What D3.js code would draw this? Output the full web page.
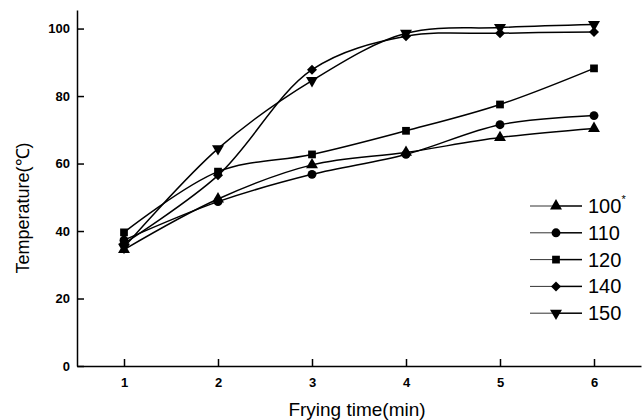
<!DOCTYPE html>
<html>
<head>
<meta charset="utf-8">
<script src="https://cdn.jsdelivr.net/npm/d3@7"></script>
<style>
  body { margin: 0; background: #fff; }
  text { font-family: Arial, "Liberation Sans", sans-serif; fill: #000; }
  .axis path, .axis line { stroke: #000; stroke-width: 1.5px; }
  .axis text { font-size: 13px; font-weight: bold; }
</style>
</head>
<body>
<div id="chart"></div>
<script>
// frying time (min) and temperature readings for each oil temperature
var times = [1, 2, 3, 4, 5, 6];
var seriesNames = ["100", "110", "120", "140", "150"];
var t100 = [34.5, 49.5, 59.6, 63.3, 67.7, 70.4];
var t110 = [37.3, 48.7, 56.8, 62.7, 71.5, 74.2];
var t120 = [39.6, 57.6, 62.7, 69.7, 77.5, 88.2];
var t140 = [36.3, 56.5, 87.8, 97.7, 98.6, 99.0];
var t150 = [35.2, 64.4, 84.6, 98.6, 100.3, 101.2];
var yTicks = [0, 20, 40, 60, 80, 100];

var allSeries = [t100, t110, t120, t140, t150];
// triangle, circle, square, diamond, inverted triangle
var symbols = [d3.symbolTriangle, d3.symbolCircle, d3.symbolSquare, d3.symbolSquare, d3.symbolTriangle];
var rotations = [0, 0, 0, 45, 180];
var sizes = [62, 62, 60, 50, 62];

var margin = {top: 10, right: 2, bottom: 54, left: 77};
var width = 643 - margin.left - margin.right,
    height = 420 - margin.top - margin.bottom;

var svg = d3.select("#chart").append("svg")
  .attr("width", 643)
  .attr("height", 420);
var g = svg.append("g")
  .attr("transform", "translate(" + margin.left + "," + margin.top + ")");

var x = d3.scaleLinear().domain([0.5, 6.5]).range([0, width]);
var y = d3.scaleLinear().domain([0, 105.5]).range([height, 0]);

// axes, ticks pointing inward
g.append("g")
  .attr("class", "axis")
  .attr("transform", "translate(0," + height + ")")
  .call(d3.axisBottom(x).tickValues(times).tickFormat(d3.format("d"))
    .tickSizeInner(-7).tickSizeOuter(0).tickPadding(12));
g.append("g")
  .attr("class", "axis")
  .call(d3.axisLeft(y).tickValues(yTicks).tickFormat(d3.format("d"))
    .tickSizeInner(-7).tickSizeOuter(0).tickPadding(7));

// axis titles
g.append("text")
  .attr("x", 280)
  .attr("y", height + 50)
  .style("text-anchor", "middle")
  .style("font-size", "19px")
  .text("Frying time(min)");
g.append("text")
  .attr("transform", "translate(-48," + (height / 2 + 20) + ") rotate(-90)")
  .style("text-anchor", "middle")
  .style("font-size", "18px")
  .text("Temperature(℃)");

var line = d3.line()
  .x(function(d, i) { return x(times[i]); })
  .y(function(d) { return y(d); })
  .curve(d3.curveCatmullRom.alpha(0.5));

function marker(sel, i) {
  sel.attr("d", d3.symbol().type(symbols[i]).size(sizes[i]))
    .attr("fill", "#000");
}

allSeries.forEach(function(vals, i) {
  g.append("path")
    .datum(vals)
    .attr("fill", "none")
    .attr("stroke", "#000")
    .attr("stroke-width", 1.5)
    .attr("d", line);
  g.selectAll(".m" + i)
    .data(vals)
    .enter().append("path")
    .attr("class", "m" + i)
    .attr("transform", function(d, j) {
      return "translate(" + x(times[j]) + "," + y(d) + ") rotate(" + rotations[i] + ")";
    })
    .call(marker, i);
});

// legend
var legend = svg.append("g").attr("transform", "translate(530,206)");
seriesNames.forEach(function(name, i) {
  var row = legend.append("g").attr("transform", "translate(0," + (i * 26.8) + ")");
  row.append("line")
    .attr("x1", 0).attr("x2", 26)
    .attr("stroke", "#333").attr("stroke-width", 1);
  row.append("line")
    .attr("x1", 26).attr("x2", 52)
    .attr("stroke", "#000").attr("stroke-width", 1.5);
  row.append("path")
    .attr("transform", "translate(26,0) rotate(" + rotations[i] + ")")
    .call(marker, i);
  var t = row.append("text")
    .attr("x", 58)
    .attr("y", 7)
    .style("font-size", "20px")
    .text(name);
  if (i == 0) {
    t.append("tspan").attr("dy", -10).style("font-size", "11px").text("*");
  }
});
</script>
</body>
</html>
